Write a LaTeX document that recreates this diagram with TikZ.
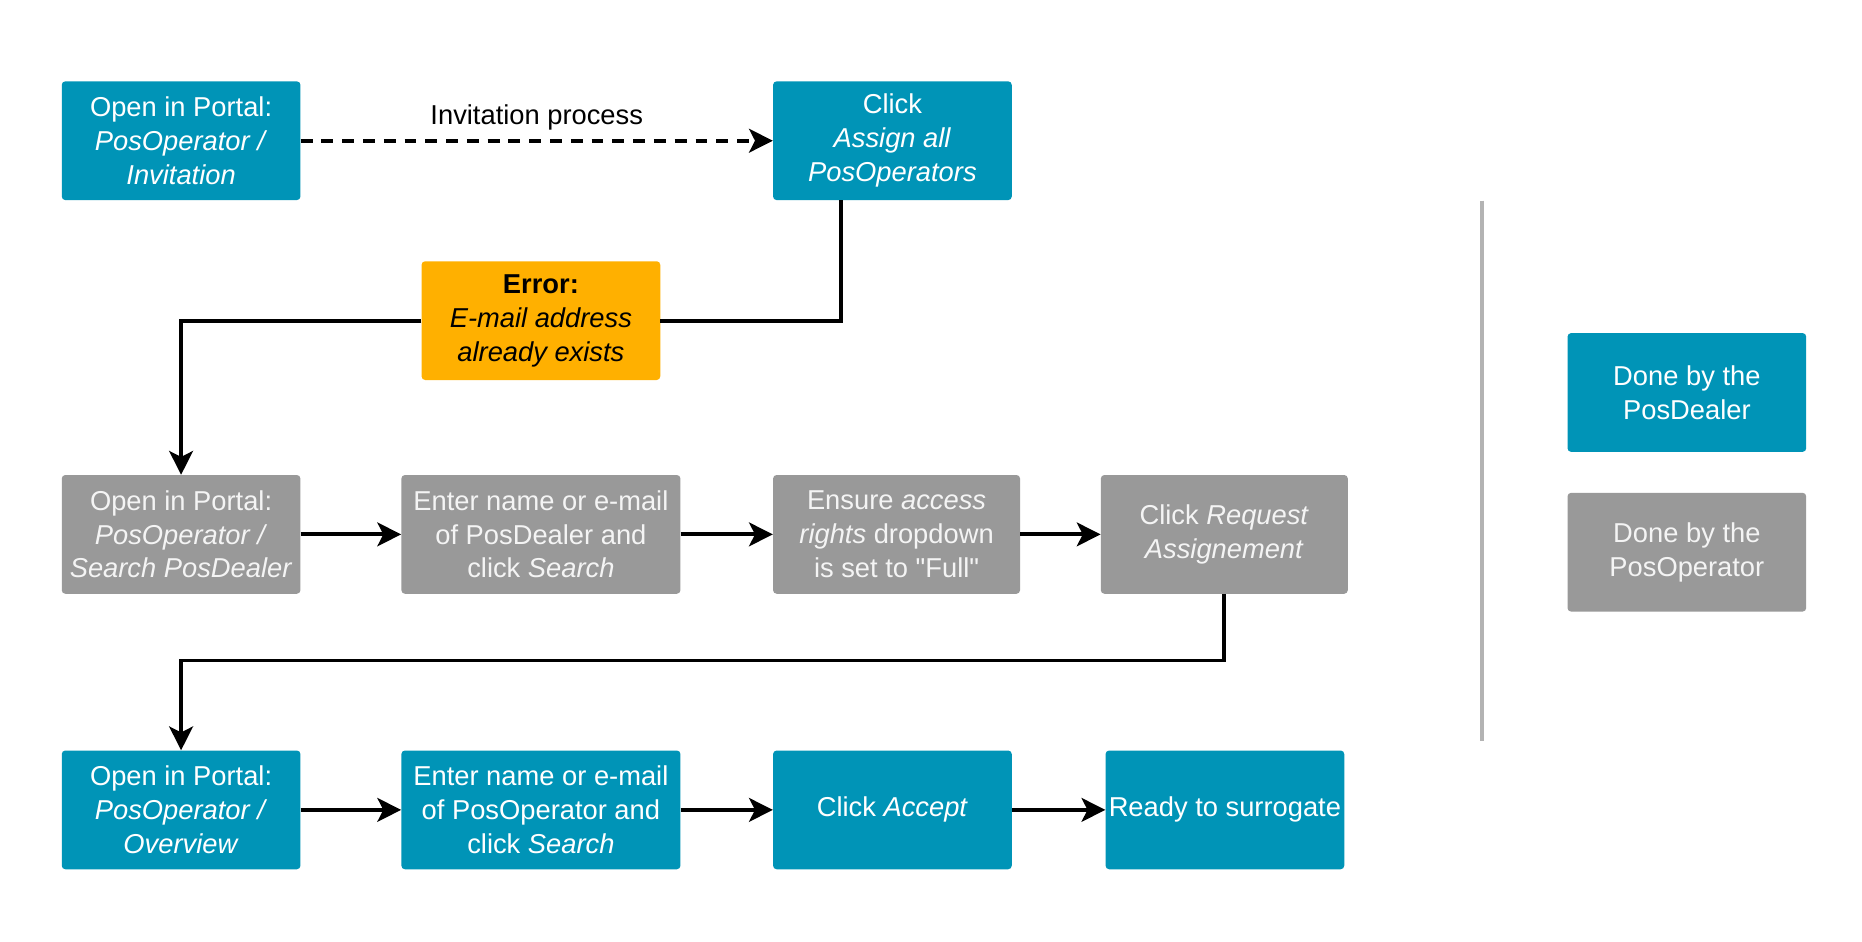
\documentclass[tikz,border=0pt]{standalone}
\usepackage{fontspec}
\setmainfont[Ligatures=TeXOff]{Liberation Sans}
\usetikzlibrary{arrows.meta}
\definecolor{dealer}{HTML}{0094B7}
\definecolor{operator}{HTML}{999999}
\definecolor{errcol}{HTML}{FFB000}
\definecolor{optext}{HTML}{F4F4F4}
\definecolor{sepline}{HTML}{B3B3B3}
\tikzset{
  box/.style={rectangle, rounded corners=3pt, inner sep=0pt, align=center,
    minimum height=100pt, font=\fontsize{23}{28.5}\selectfont},
  dealerbox/.style={box, fill=dealer, text=white},
  opbox/.style={box, fill=operator, text=optext},
  errbox/.style={box, fill=errcol, text=black},
  conn/.style={line width=3.2pt, draw=black},
  arrowconn/.style={conn, -{Stealth[length=20pt,width=20pt,inset=5pt]}},
  dashconn/.style={arrowconn, dash pattern=on 10pt off 7.5pt},
  seprule/.style={line width=3pt, draw=sepline},
}
\begin{document}
\begin{tikzpicture}[x=1pt, y=-1pt]
\useasboundingbox[fill=white] (0,0) rectangle (1568,793);

% Row 1
\node[dealerbox, minimum width=201pt] (A) at (152.5,118.5) {Open in Portal:\\\textit{PosOperator /}\\\textit{Invitation}};
\node[dealerbox, minimum width=201pt] (B) at (751.5,118.5) {Click\\\textit{Assign all}\\\textit{PosOperators}};
\node[errbox, minimum width=201pt] (E) at (455.5,270) {\textbf{Error:}\\\textit{E-mail address}\\\textit{already exists}};

% Row 2
\node[opbox, minimum width=201pt] (C1) at (152.5,450) {Open in Portal:\\\textit{PosOperator /}\\\textit{Search PosDealer}};
\node[opbox, minimum width=235pt] (C2) at (455.5,450) {Enter name or e-mail\\of PosDealer and\\click \textit{Search}};
\node[opbox, minimum width=208pt] (C3) at (755,450) {Ensure \textit{access}\\\textit{rights} dropdown\\is set to "Full"};
\node[opbox, minimum width=208pt] (C4) at (1031,450) {Click \textit{Request}\\\textit{Assignement}};

% Row 3
\node[dealerbox, minimum width=201pt] (D1) at (152.5,682) {Open in Portal:\\\textit{PosOperator /}\\\textit{Overview}};
\node[dealerbox, minimum width=235pt] (D2) at (455.5,682) {Enter name or e-mail\\of PosOperator and\\click \textit{Search}};
\node[dealerbox, minimum width=201pt] (D3) at (751.5,682) {Click \textit{Accept}};
\node[dealerbox, minimum width=201pt] (D4) at (1031.5,682) {Ready to surrogate};

% Legend
\node[dealerbox, minimum width=201pt] (L1) at (1420.5,330.5) {Done by the\\PosDealer};
\node[opbox, minimum width=201pt] (L2) at (1420.5,465) {Done by the\\PosOperator};

% Separator
\coordinate (S1) at (1248,169);
\coordinate (S2) at (1248,624);
\draw[seprule] (S1) -- (S2);

% Connectors
\draw[dashconn] (A.east) -- node[midway, yshift=20pt, font=\fontsize{23}{28.5}\selectfont, text=black] {Invitation process} (B.west);
\draw[conn] ([xshift=-43.5pt]B.south) |- (E.east);
\draw[arrowconn] (E.west) -| (C1.north);
\draw[arrowconn] (C1.east) -- (C2.west);
\draw[arrowconn] (C2.east) -- (C3.west);
\draw[arrowconn] (C3.east) -- (C4.west);
\draw[arrowconn] (C4.south) -- ++(0,56) -| (D1.north);
\draw[arrowconn] (D1.east) -- (D2.west);
\draw[arrowconn] (D2.east) -- (D3.west);
\draw[arrowconn] (D3.east) -- (D4.west);
\end{tikzpicture}
\end{document}
